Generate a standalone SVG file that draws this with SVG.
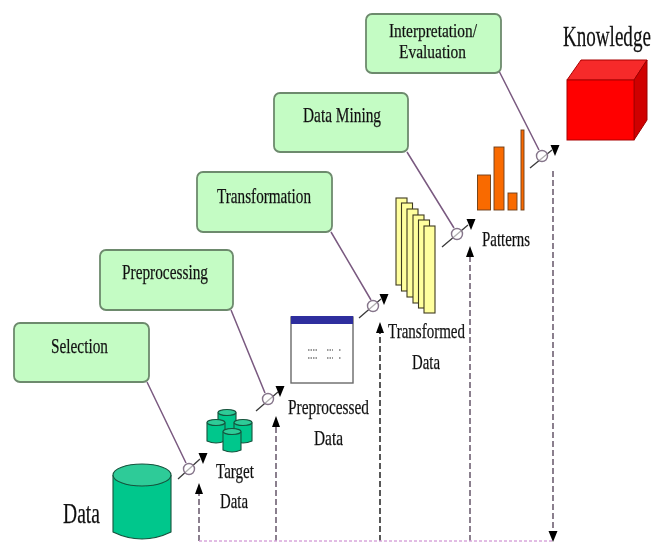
<svg xmlns="http://www.w3.org/2000/svg" xmlns:xlink="http://www.w3.org/1999/xlink" width="655" height="542" viewBox="0 0 655 542">
<style>
text{font-family:"Liberation Serif","Times New Roman",serif;fill:#111;font-size:21px;text-anchor:start;stroke:#222;stroke-width:.25}
.big{font-size:29px}
.two{font-size:18px}
.step{fill:#c4fcc4;stroke:#6d8a6d;stroke-width:1.8}
.lead{fill:none;stroke:#7a5a80;stroke-width:1.5}
.flow{fill:none;stroke:#3a3a3a;stroke-width:1.3}
.ring{fill:#fff;fill-opacity:.6;stroke:#85758a;stroke-width:1.4}
.dash{fill:none;stroke:#5a4a5e;stroke-width:1.4;stroke-dasharray:6 3}
.dots{fill:none;stroke:#d9a6dc;stroke-width:1.6;stroke-dasharray:3 2}
.cyl{fill:#00c78c;stroke:#14523c;stroke-width:1.1}
.cap{fill:#2fcb98;stroke:#14523c;stroke-width:1.1}
.page{fill:#ffff9e;stroke:#3e3a20;stroke-width:1.1}
.bar{fill:#f96a06;stroke:#6b3a12;stroke-width:.9}
.soft{filter:url(#s)}
</style>
<defs>
<filter id="s" x="-5%" y="-5%" width="110%" height="110%"><feGaussianBlur stdDeviation="0.4"/></filter>
<polygon id="hd" points="-4.5,-11 4.5,-11 0,0" fill="#000"/>
<polygon id="hu" points="-4,11 4,11 0,0" fill="#000"/>
<g id="mini">
<path class="cyl" d="M0 3.500V22Q9 26 18 22V3.500"/>
<ellipse class="cap" cx="9" cy="3.500" rx="9" ry="3"/>
</g>
</defs>
<rect width="655" height="542" fill="#fff"/>
<g id="connectors" class="soft">
<path class="lead" d="M147 382L186 463M231 310L265 393M331 232L371 300M407 152L454 228M499 71L539 150"/>
<path class="flow" d="M178 479L200 459M256 411L278 392M359 318L381 299M442 247L468 225M530 168L552 150"/>
<path class="dash" d="M199 541V494M276 541V427M470 541V257M553 171V531"/>
<path class="dash" stroke-dasharray="5 2" d="M380 541V333" style="stroke:#111"/>
<path class="dots" d="M199 541H553"/>
<circle class="ring" cx="189" cy="469" r="5.500"/>
<circle class="ring" cx="268" cy="399" r="5.500"/>
<circle class="ring" cx="373" cy="306" r="5.500"/>
<circle class="ring" cx="457" cy="234" r="5.500"/>
<circle class="ring" cx="542" cy="156" r="5.500"/>
<use xlink:href="#hd" href="#hd" x="203" y="464"/>
<use xlink:href="#hd" href="#hd" x="280" y="397"/>
<use xlink:href="#hd" href="#hd" x="384" y="305"/>
<use xlink:href="#hd" href="#hd" x="471" y="230"/>
<use xlink:href="#hd" href="#hd" x="555" y="156"/>
<use xlink:href="#hu" href="#hu" x="199" y="483"/>
<use xlink:href="#hu" href="#hu" x="276" y="416"/>
<use xlink:href="#hu" href="#hu" x="380" y="322"/>
<use xlink:href="#hu" href="#hu" x="470" y="246"/>
<use xlink:href="#hd" href="#hd" x="553" y="542"/>
</g>
<g id="selection" class="soft"><rect class="step" x="14" y="323" width="135" height="59" rx="6"/><text x="51" y="353" textLength="57" lengthAdjust="spacingAndGlyphs">Selection</text></g>
<g id="preprocessing" class="soft"><rect class="step" x="100" y="250" width="133" height="60" rx="6"/><text x="122" y="279" textLength="86" lengthAdjust="spacingAndGlyphs">Preprocessing</text></g>
<g id="transformation" class="soft"><rect class="step" x="197" y="172" width="135" height="60" rx="6"/><text x="217" y="203" textLength="94" lengthAdjust="spacingAndGlyphs">Transformation</text></g>
<g id="data-mining" class="soft"><rect class="step" x="274" y="93" width="134" height="59" rx="6"/><text x="303" y="122" textLength="78" lengthAdjust="spacingAndGlyphs">Data Mining</text></g>
<g id="interpretation" class="soft"><rect class="step" x="366" y="14" width="135" height="59" rx="6"/><text class="two" x="389" y="37" textLength="88" lengthAdjust="spacingAndGlyphs">Interpretation/</text><text class="two" x="399" y="58" textLength="67" lengthAdjust="spacingAndGlyphs">Evaluation</text></g>
<g id="data" class="soft">
<path class="cyl" d="M113 475V532Q142 546 171 532V475"/>
<ellipse class="cap" cx="142" cy="475" rx="29" ry="11"/>
<text class="big" x="63" y="523" textLength="37" lengthAdjust="spacingAndGlyphs">Data</text>
</g>
<g id="target-data" class="soft">
<use href="#mini" xlink:href="#mini" x="218" y="409"/>
<use href="#mini" xlink:href="#mini" x="207" y="419"/>
<use href="#mini" xlink:href="#mini" x="234" y="419"/>
<use href="#mini" xlink:href="#mini" x="223" y="428"/>
<text x="216" y="478" textLength="38" lengthAdjust="spacingAndGlyphs">Target</text>
<text x="220" y="508" textLength="28" lengthAdjust="spacingAndGlyphs">Data</text>
</g>
<g id="preprocessed-data" class="soft">
<rect x="291" y="317" width="62" height="66" fill="#fff" stroke="#6a6a6a" stroke-width="1.4"/>
<rect x="291" y="316" width="62" height="8" fill="#2e2e9e"/>
<path d="M308 350h9M327 350h6M339 350h2M308 358h9M327 358h6M339 358h2" stroke="#9a9a9a" stroke-width="2" stroke-dasharray="1.5 1"/>
<text x="288" y="414" textLength="81" lengthAdjust="spacingAndGlyphs">Preprocessed</text>
<text x="314" y="445" textLength="29" lengthAdjust="spacingAndGlyphs">Data</text>
</g>
<g id="transformed-data" class="soft">
<rect class="page" x="396" y="198" width="11" height="87"/>
<rect class="page" x="401.500" y="203" width="11" height="88"/>
<rect class="page" x="407" y="209" width="11" height="88"/>
<rect class="page" x="413" y="215" width="11" height="88"/>
<rect class="page" x="418.500" y="220" width="11" height="88"/>
<rect class="page" x="424" y="226" width="11" height="87"/>
<text x="388" y="338" textLength="77" lengthAdjust="spacingAndGlyphs">Transformed</text>
<text x="412" y="369" textLength="28" lengthAdjust="spacingAndGlyphs">Data</text>
</g>
<g id="patterns" class="soft">
<rect class="bar" x="477.500" y="175" width="13" height="35"/>
<rect class="bar" x="494" y="147" width="10" height="63"/>
<rect class="bar" x="508" y="193" width="9" height="17"/>
<rect class="bar" x="521" y="130" width="3" height="80"/>
<text x="482" y="246" textLength="48" lengthAdjust="spacingAndGlyphs">Patterns</text>
</g>
<g id="knowledge" class="soft">
<polygon points="567,80 581,60 647,60 634,80" fill="#f62a2a" stroke="#a00" stroke-width="1"/>
<polygon points="634,80 647,60 647,120 634,140" fill="#cf0000" stroke="#900" stroke-width="1"/>
<rect x="567" y="80" width="67" height="60" fill="#ff0000" stroke="#a00" stroke-width="1"/>
<text class="big" transform="translate(563 46) scale(.658 1)">Knowledge</text>
</g>
</svg>
